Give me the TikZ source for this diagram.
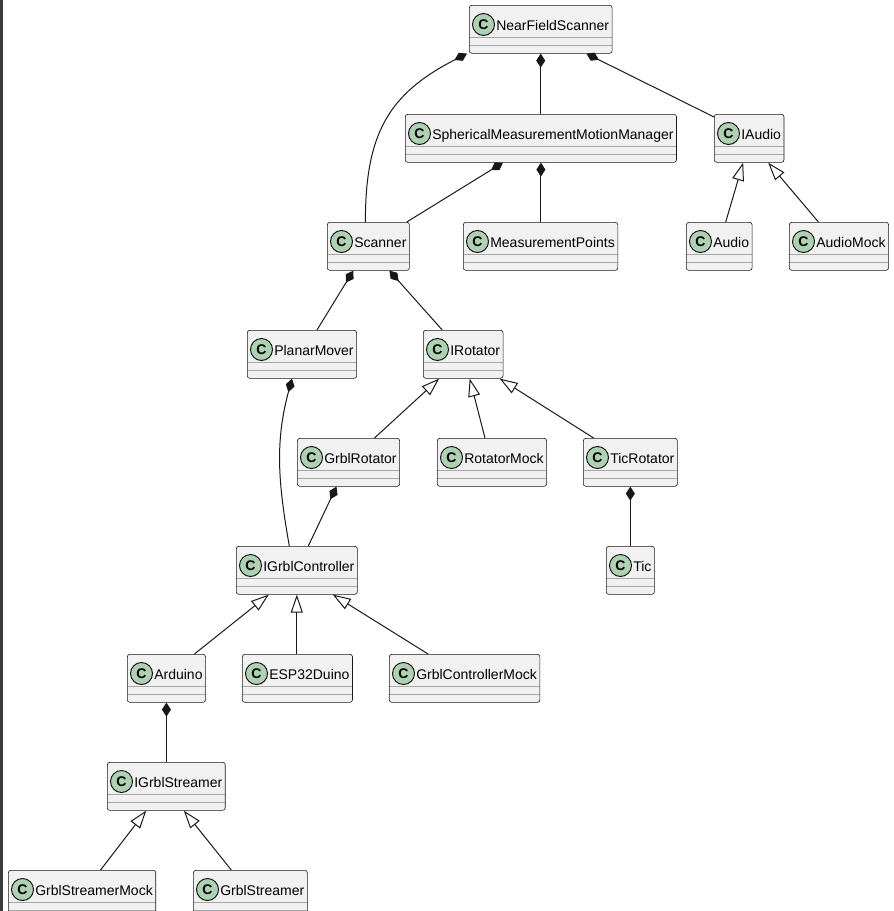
\documentclass[tikz,border=0pt]{standalone}
\usepackage{fontspec}
\newfontfamily\umlfont{Liberation Sans}
\usetikzlibrary{arrows.meta}
\definecolor{clsfill}{HTML}{F1F1F1}
\definecolor{clsline}{HTML}{181818}
\definecolor{spotfill}{HTML}{ADD1B2}
\definecolor{leftbar}{HTML}{3A3A3A}

\begin{document}
\begin{tikzpicture}
[x=1pt,y=-1pt,
spot/.style={circle,draw=clsline,line width=1pt,fill=spotfill,minimum size=22pt,inner sep=0pt,
  font=\umlfont\bfseries\fontsize{14}{14}\selectfont},
cls/.style={draw=clsline,line width=0.6pt,fill=clsfill,rounded corners=2.5pt,anchor=north west,
  inner xsep=0pt,inner ysep=0pt,text height=25pt,text depth=23pt,
  font=\umlfont\fontsize{14}{16}\selectfont,
  execute at begin node=\hspace*{27pt},execute at end node=\hspace*{3pt},
  path picture={
    \draw[black!35,line width=1pt] ([yshift=16pt]path picture bounding box.south west) -- ([yshift=16pt]path picture bounding box.south east);
    \draw[black!35,line width=1pt] ([yshift=8pt]path picture bounding box.south west) -- ([yshift=8pt]path picture bounding box.south east);
  }},
has/.style={draw=clsline,line width=1pt,arrows={Diamond[length=14pt,width=9pt,fill=clsline]-}},
isa/.style={draw=clsline,line width=1pt,arrows={Triangle[open,length=18pt,width=12pt]-}}]
\useasboundingbox (0,0) rectangle (894,911);
\clip (0,0) rectangle (894,911);
\fill[leftbar] (0,0) rectangle (2.5,911);
% classes
\node[cls] (nfs) at (469,5) {NearFieldScanner};
\node[cls] (smmm) at (405,114) {SphericalMeasurementMotionManager};
\node[cls] (iaudio) at (714,114) {IAudio};
\node[cls] (scanner) at (327,222) {Scanner};
\node[cls] (mpoints) at (463,222) {MeasurementPoints};
\node[cls] (audio) at (686,222) {Audio};
\node[cls] (audiomock) at (789,222) {AudioMock};
\node[cls] (planarmover) at (247,330) {PlanarMover};
\node[cls] (irotator) at (423,330) {IRotator};
\node[cls] (grblrotator) at (297,438) {GrblRotator};
\node[cls] (rotatormock) at (437,438) {RotatorMock};
\node[cls] (ticrotator) at (583,438) {TicRotator};
\node[cls] (igc) at (236,546) {IGrblController};
\node[cls] (tic) at (606,546) {Tic};
\node[cls] (arduino) at (127,654) {Arduino};
\node[cls] (esp) at (242,654) {ESP32Duino};
\node[cls] (gcmock) at (389,654) {GrblControllerMock};
\node[cls] (igs) at (107,762) {IGrblStreamer};
\node[cls] (gsmock) at (8,870) {GrblStreamerMock};
\node[cls] (gstreamer) at (193,870) {GrblStreamer};
% class spots
\foreach \n in {nfs,smmm,iaudio,scanner,mpoints,audio,audiomock,planarmover,irotator,grblrotator,
  rotatormock,ticrotator,igc,tic,arduino,esp,gcmock,igs,gsmock,gstreamer}
  \node[spot] at ([xshift=14.5pt,yshift=-19.5pt]\n.north west) {C};
% composition
\draw[has] ([xshift=-2pt]nfs.south west) to[out=207,in=90,looseness=1.15] ([xshift=-3pt]scanner.north);
\draw[has] (nfs.south) -- (nfs.south |- smmm.north);
\draw[has] ([xshift=-26pt]nfs.south east) -- ([yshift=-3pt]iaudio.north west);
\draw[has] ([xshift=98pt]smmm.south west) -- ([xshift=-3pt]scanner.north east);
\draw[has] (smmm.south) -- (smmm.south |- mpoints.north);
\draw[has] ([xshift=-15pt]scanner.south) -- ([xshift=15pt]planarmover.north);
\draw[has] ([xshift=21pt]scanner.south) -- ([xshift=-21pt]irotator.north);
\draw[has] ([xshift=-10pt]planarmover.south) to[out=255,in=100] ([xshift=-7.5pt]igc.north);
\draw[has] ([xshift=-12pt]grblrotator.south) -- ([xshift=11.5pt]igc.north);
\draw[has] (ticrotator.south) -- (ticrotator.south |- tic.north);
\draw[has] (arduino.south) -- (arduino.south |- igs.north);
% inheritance
\draw[isa] ([xshift=-6pt]iaudio.south) -- ([xshift=6.5pt]audio.north);
\draw[isa] ([xshift=19pt]iaudio.south) -- ([xshift=-20.5pt]audiomock.north);
\draw[isa] ([xshift=-24pt]irotator.south) -- ([xshift=26pt]grblrotator.north);
\draw[isa] ([xshift=6.5pt]irotator.south) -- ([xshift=-7pt]rotatormock.north);
\draw[isa] ([xshift=36.5pt]irotator.south) -- ([xshift=-36.7pt]ticrotator.north);
\draw[isa] ([xshift=-28pt]igc.south) -- ([xshift=28pt]arduino.north);
\draw[isa] (igc.south) -- (igc.south |- esp.north);
\draw[isa] ([xshift=36pt]igc.south) -- ([xshift=-36.5pt]gcmock.north);
\draw[isa] ([xshift=-20pt]igs.south) -- ([xshift=18.5pt]gsmock.north);
\draw[isa] ([xshift=17.5pt]igs.south) -- ([xshift=-19pt]gstreamer.north);
\end{tikzpicture}
\end{document}
